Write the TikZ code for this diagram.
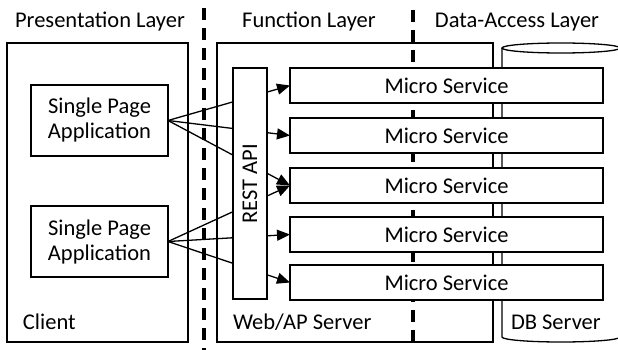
\documentclass[tikz,border=0pt]{standalone}
\usepackage{fontspec}
\setmainfont{Carlito}
\usetikzlibrary{arrows.meta}

\tikzset{
  box/.style={draw, line width=1.3pt, fill=white, inner sep=0pt, outer sep=0pt, anchor=north west},
  txt/.style={font=\fontsize{22.5}{25}\selectfont},
  lbl/.style={txt, inner sep=0pt, outer sep=0pt},
  arr/.style={line width=1.3pt, -{Triangle[length=13pt,width=11pt]}},
  divider/.style={line width=3.2pt, dash pattern=on 12pt off 8pt},
}

\begin{document}
\begin{tikzpicture}[x=1pt,y=-1pt]
\useasboundingbox (0,0) rectangle (618,350);

% layer headings
\node[lbl] (hpres) at (100,22) {Presentation Layer};
\node[lbl] (hfunc) at (309,22) {Function Layer};
\node[lbl] (hdata) at (517,22) {Data-Access Layer};

% client side
\node[box, minimum width=181pt, minimum height=299pt] (client) at (7,43) {};
\node[lbl, anchor=west] (clientlbl) at (23,322) {Client};
\node[box, txt, minimum width=137pt, minimum height=71pt, align=center] (spa1) at (31,85) {Single Page\\Application};
\node[box, txt, minimum width=137pt, minimum height=71pt, align=center] (spa2) at (31,206) {Single Page\\Application};

% application server
\node[box, minimum width=276pt, minimum height=299pt] (web) at (217,43) {};
\node[lbl, anchor=west] (weblbl) at (233,322) {Web/AP Server};

% database cylinder
\draw[line width=1.3pt, fill=white] (502,48) -- (502,337)
  arc[start angle=180, end angle=360, x radius=59pt, y radius=5pt] -- (620,48);
\draw[line width=1.3pt, fill=white] (561,48) ellipse[x radius=59pt, y radius=5pt];
\node[lbl, anchor=west] (dblbl) at (511,322) {DB Server};

% boundary between function and data-access layers
\draw[divider] (413,10) -- (413,350);

% micro services
\foreach \i/\y in {1/68,2/118,3/168,4/217,5/265}{
  \node[box, txt, minimum width=313pt, minimum height=35pt] (ms\i) at (290,\y) {Micro Service};
}

% requests from the single page applications
\foreach \t in {1,2,3}{ \draw[arr] (spa1.east) -- (ms\t.west); }
\foreach \t in {3,4,5}{ \draw[arr] (spa2.east) -- (ms\t.west); }

% REST gateway covers the middle of the request lines
\node[box, minimum width=34pt, minimum height=231pt] (rest) at (233,68) {};
\node[lbl, rotate=90] (restlbl) at (rest.center) {REST API};

% boundary between presentation and function layers
\draw[divider] (204,8) -- (204,350);
\end{tikzpicture}
\end{document}
